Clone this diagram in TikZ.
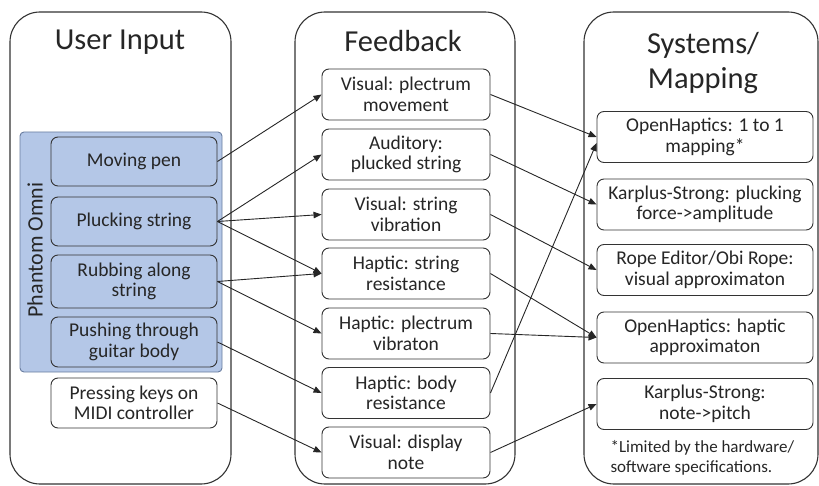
\documentclass[tikz,border=0pt]{standalone}
\usepackage{fontspec}
\setmainfont{Carlito}
\usetikzlibrary{arrows.meta,positioning}
\definecolor{omniblue}{RGB}{180,199,231}
\definecolor{omniline}{RGB}{105,125,160}
\definecolor{inktext}{RGB}{38,38,38}

\begin{document}
\begin{tikzpicture}[x=1pt,y=-1pt]
    \tikzstyle{column} = [draw=black!80, line width=1.1pt, rounded corners=30pt, minimum height=472pt];
    \tikzstyle{heading} = [text=inktext, font=\fontsize{30.5}{35}\selectfont, align=center];
    \tikzstyle{box} = [draw=black!80, line width=0.9pt, rounded corners=7pt, fill=white, text=inktext, align=center, font=\fontsize{19.5}{20.5}\selectfont, inner sep=1pt];
    \tikzstyle{omnibox} = [box, fill=omniblue];
    \tikzstyle{link} = [draw, black!85, line width=0.9pt, -{Triangle[length=8pt,width=6.5pt]}];

    \useasboundingbox (0,0) rectangle (819,486);

    % columns
    \node[column, minimum width=221pt] (UI) at (120.5,248) {};
    \node[column, minimum width=220pt] (FB) at (405,248) {};
    \node[column, minimum width=234pt] (SM) at (701,248) {};

    \node[heading] (UItitle) at (120,42) {User Input};
    \node[heading] (FBtitle) at (403,41) {Feedback};
    \node[heading] (SMtitle) at (703,63) {Systems/\\Mapping};

    % phantom omni group
    \node[draw=omniline, line width=0.9pt, fill=omniblue, rounded corners=4pt,
          minimum width=202pt, minimum height=240pt] (PO) at (121,252) {};
    \node[rotate=90, text=inktext, font=\fontsize{22}{24}\selectfont] (POlabel) at (35,250) {Phantom Omni};

    % user input
    \node[omnibox, minimum width=166pt, minimum height=49pt] (Pen) at (134,161.5) {Moving pen};
    \node[omnibox, minimum width=166pt, minimum height=49pt] (Pluck) at (134,221.5) {Plucking string};
    \node[omnibox, minimum width=166pt, minimum height=53pt] (Rub) at (134,281.5) {Rubbing along\\string};
    \node[omnibox, minimum width=166pt, minimum height=50pt] (Push) at (134,342) {Pushing through\\guitar body};
    \node[box, minimum width=166pt, minimum height=50pt] (Keys) at (134,403) {Pressing keys on\\MIDI controller};

    % feedback
    \node[box, minimum width=168pt, minimum height=51pt] (PlecMove) at (406,94.5) {Visual: plectrum\\movement};
    \node[box, minimum width=168pt, minimum height=51pt] (Audio) at (406,154.5) {Auditory:\\plucked string};
    \node[box, minimum width=168pt, minimum height=51pt] (StrVib) at (406,214.5) {Visual: string\\vibration};
    \node[box, minimum width=168pt, minimum height=51pt] (StrRes) at (406,273.5) {Haptic: string\\resistance};
    \node[box, minimum width=168pt, minimum height=51pt] (PlecVib) at (406,333.5) {Haptic: plectrum\\vibraton};
    \node[box, minimum width=168pt, minimum height=51pt] (BodyRes) at (406,393) {Haptic: body\\resistance};
    \node[box, minimum width=168pt, minimum height=51pt] (Note) at (406,452.5) {Visual: display\\note};

    % systems / mapping
    \node[box, minimum width=216pt, minimum height=51pt] (OHmap) at (705,137) {OpenHaptics: 1 to 1\\mapping*};
    \node[box, minimum width=216pt, minimum height=51pt] (KSamp) at (705,204.5) {Karplus-Strong: plucking\\force->amplitude};
    \node[box, minimum width=216pt, minimum height=51pt] (Rope) at (705,270) {Rope Editor/Obi Rope:\\visual approximaton};
    \node[box, minimum width=216pt, minimum height=51pt] (OHapp) at (705,337.5) {OpenHaptics: haptic\\approximaton};
    \node[box, minimum width=216pt, minimum height=51pt] (KSpitch) at (705,404) {Karplus-Strong:\\note->pitch};

    \node[anchor=west, align=left, text=inktext, font=\fontsize{17}{20}\selectfont] (Foot) at (607,458)
        {*Limited by the hardware/\\software specifications.};

    \path
        (Pen.east) edge[link] (PlecMove.west)
        (Pluck.east) edge[link] (Audio.west)
        (Pluck.east) edge[link] (StrVib.west)
        (Pluck.east) edge[link] (StrRes.west)
        (Rub.east) edge[link] (StrRes.west)
        (Rub.east) edge[link] (PlecVib.west)
        (Push.east) edge[link] (BodyRes.west)
        (Keys.east) edge[link] (Note.west)
        (PlecMove.east) edge[link] (OHmap.west)
        (Audio.east) edge[link] (KSamp.west)
        (StrVib.east) edge[link] (Rope.west)
        (StrRes.east) edge[link] (OHapp.west)
        (PlecVib.east) edge[link] (OHapp.west)
        (BodyRes.east) edge[link] ([yshift=-6pt]OHmap.west)
        (Note.east) edge[link] (KSpitch.west)
    ;
\end{tikzpicture}
\end{document}
